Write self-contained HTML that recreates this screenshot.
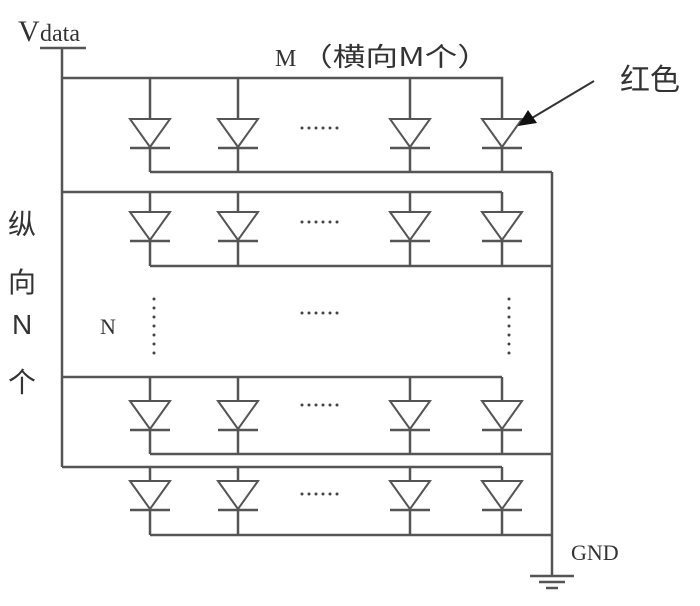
<!DOCTYPE html>
<html><head><meta charset="utf-8"><style>
body{margin:0;background:#fff;}
svg{display:block;}
text{fill:#333;}
</style></head><body>
<svg width="700" height="606" viewBox="0 0 700 606" xmlns="http://www.w3.org/2000/svg">
<defs>
<g id="d">
<polygon points="-20,0 20,0 0,28" fill="#fff" stroke="#555" stroke-width="2"/>
<line x1="-20" y1="29" x2="20" y2="29" stroke="#555" stroke-width="2.5"/>
</g>
<g id="hd" fill="#444"><circle cx="302" cy="0" r="1.5"/><circle cx="309" cy="0" r="1.5"/><circle cx="316" cy="0" r="1.5"/><circle cx="323" cy="0" r="1.5"/><circle cx="330" cy="0" r="1.5"/><circle cx="337" cy="0" r="1.5"/></g>
<g id="vd" fill="#444"><circle cx="0" cy="299" r="1.5"/><circle cx="0" cy="308" r="1.5"/><circle cx="0" cy="317" r="1.5"/><circle cx="0" cy="326" r="1.5"/><circle cx="0" cy="335" r="1.5"/><circle cx="0" cy="344" r="1.5"/><circle cx="0" cy="353" r="1.5"/></g>
</defs>
<g stroke="#555" stroke-width="2.5" fill="none">
<line x1="40" y1="48" x2="86" y2="48"/>
<line x1="62" y1="48" x2="62" y2="467"/>
<polyline points="62,78 502,78 502,119"/>
<line x1="150" y1="78" x2="150" y2="172"/><line x1="238" y1="78" x2="238" y2="172"/><line x1="410" y1="78" x2="410" y2="172"/><line x1="502" y1="119" x2="502" y2="172"/>
<line x1="150" y1="172" x2="552" y2="172"/>
<polyline points="62,192 502,192"/>
<line x1="150" y1="192" x2="150" y2="266"/><line x1="238" y1="192" x2="238" y2="266"/><line x1="410" y1="192" x2="410" y2="266"/><line x1="502" y1="192" x2="502" y2="266"/>
<line x1="150" y1="266" x2="552" y2="266"/>
<polyline points="62,377 502,377"/>
<line x1="150" y1="377" x2="150" y2="454"/><line x1="238" y1="377" x2="238" y2="454"/><line x1="410" y1="377" x2="410" y2="454"/><line x1="502" y1="377" x2="502" y2="454"/>
<line x1="150" y1="454" x2="552" y2="454"/>
<polyline points="62,467 502,467"/>
<line x1="150" y1="467" x2="150" y2="535"/><line x1="238" y1="467" x2="238" y2="535"/><line x1="410" y1="467" x2="410" y2="535"/><line x1="502" y1="467" x2="502" y2="535"/>
<line x1="150" y1="535" x2="552" y2="535"/>
<line x1="552" y1="172" x2="552" y2="576"/>
<line x1="530" y1="576" x2="574" y2="576"/>
<line x1="539" y1="582" x2="565" y2="582"/>
<line x1="546" y1="588" x2="558" y2="588"/>
</g>
<use href="#d" x="150" y="119"/><use href="#d" x="238" y="119"/><use href="#d" x="410" y="119"/><use href="#d" x="502" y="119"/>
<use href="#d" x="150" y="212"/><use href="#d" x="238" y="212"/><use href="#d" x="410" y="212"/><use href="#d" x="502" y="212"/>
<use href="#d" x="150" y="401"/><use href="#d" x="238" y="401"/><use href="#d" x="410" y="401"/><use href="#d" x="502" y="401"/>
<use href="#d" x="150" y="481"/><use href="#d" x="238" y="481"/><use href="#d" x="410" y="481"/><use href="#d" x="502" y="481"/>
<use href="#hd" y="128"/><use href="#hd" y="222"/><use href="#hd" y="313"/><use href="#hd" y="405"/><use href="#hd" y="494"/>
<use href="#vd" x="154"/><use href="#vd" x="509"/>
<line x1="594" y1="81" x2="532" y2="118" stroke="#333" stroke-width="2"/>
<polygon points="518,126 528,110 537,123" fill="#111"/>
<text x="18" y="41" font-family="Liberation Serif, serif" font-size="30">V</text>
<text x="40" y="41" font-family="Liberation Serif, serif" font-size="24">data</text>
<text x="275" y="66" font-family="Liberation Serif, serif" font-size="24">M</text>
<text x="300" y="66" font-family="'Noto Sans CJK SC', sans-serif" font-size="26" textLength="190" lengthAdjust="spacingAndGlyphs">（横向M个）</text>
<text x="620" y="90" font-family="'Noto Sans CJK SC', sans-serif" font-size="30">红色</text>
<g font-family="'Liberation Sans','Noto Sans CJK SC', sans-serif" font-size="28">
<text x="8" y="234">纵</text><text x="8" y="292">向</text><text x="12" y="334">N</text><text x="8" y="392">个</text>
</g>
<text x="100" y="334" font-family="Liberation Serif, serif" font-size="22">N</text>
<text x="571" y="560" font-family="Liberation Serif, serif" font-size="22">GND</text>
</svg>
</body></html>
